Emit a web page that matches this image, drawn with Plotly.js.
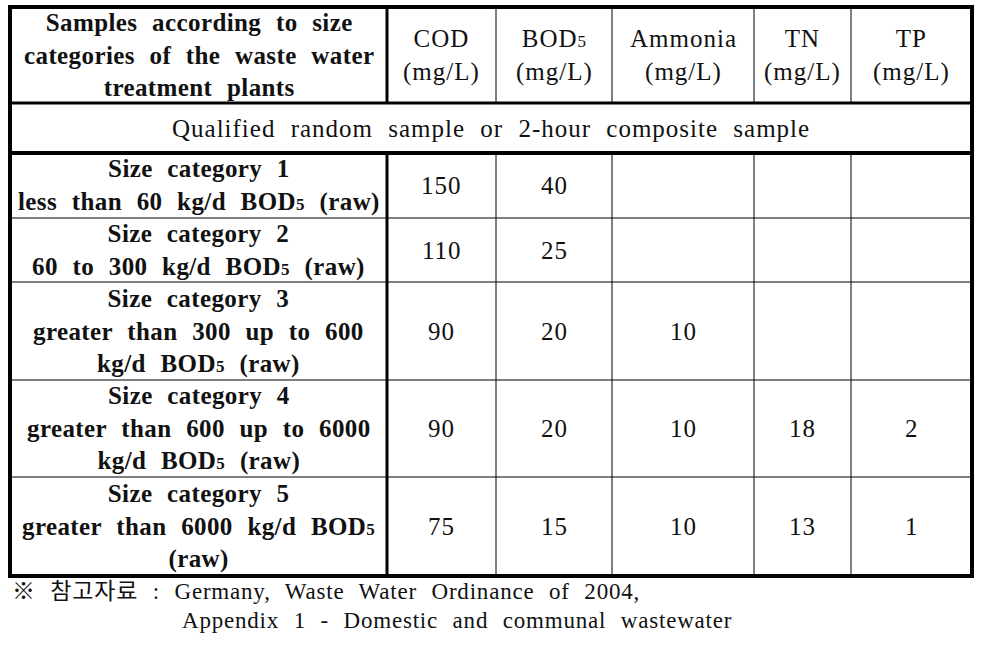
<!DOCTYPE html>
<html>
<head>
<meta charset="utf-8">
<script src="https://cdn.plot.ly/plotly-3.0.1.min.js"></script>
<style>
  body { margin: 0; background: #fff; }
  #table-vis { width: 982px; height: 645px; }
  .annotation-text { word-spacing: 8px; letter-spacing: 1px; }
</style>
</head>
<body>
<div id="table-vis"></div>
<script>
var sub5 = '<span style="font-size:17px">5</span>';

// header cells
var headers = [
  'Samples according to size<br>categories of the waste water<br>treatment plants',
  'COD<br>(mg/L)',
  'BOD' + sub5 + '<br>(mg/L)',
  'Ammonia<br>(mg/L)',
  'TN<br>(mg/L)',
  'TP<br>(mg/L)'
];
var sampleNote = 'Qualified random sample or 2-hour composite sample';

// row labels (first column)
var categories = [
  'Size category 1<br>less than 60 kg/d BOD' + sub5 + ' (raw)',
  'Size category 2<br>60 to 300 kg/d BOD' + sub5 + ' (raw)',
  'Size category 3<br>greater than 300 up to 600<br>kg/d BOD' + sub5 + ' (raw)',
  'Size category 4<br>greater than 600 up to 6000<br>kg/d BOD' + sub5 + ' (raw)',
  'Size category 5<br>greater than 6000 kg/d BOD' + sub5 + '<br>(raw)'
];

// limit values, mg/L (null = no value in table)
var cod     = [150, 110, 90, 90, 75];
var bod5    = [40, 25, 20, 20, 15];
var ammonia = [null, null, 10, 10, 10];
var tn      = [null, null, null, 18, 13];
var tp      = [null, null, null, 2, 1];

var sourceLines = [
  '※ 참고자료 : Germany, Waste Water Ordinance of 2004,',
  'Appendix 1 - Domestic and communal wastewater'
];

// table grid (pixel-like units on hidden axes)
var colEdges = [10, 387, 496, 612, 754, 851, 972];
var rowEdges = [7, 103, 153, 218, 282, 380, 477, 576];

var serif = 'Liberation Serif, Noto Sans CJK KR, serif';
var ink = '#111';

function mid(arr, i) { return (arr[i] + arr[i + 1]) / 2; }

var shapes = [];
function rule(x0, y0, x1, y1, w) {
  shapes.push({type: 'line', xref: 'x', yref: 'y', x0: x0, y0: y0, x1: x1, y1: y1,
    line: {color: '#000', width: w}});
}

var gLeft = colEdges[0], gRight = colEdges[colEdges.length - 1];
var gTop = rowEdges[0], gBottom = rowEdges[rowEdges.length - 1];

// thin verticals (not through the merged row)
for (var c = 2; c < colEdges.length - 1; c++) {
  rule(colEdges[c], rowEdges[0], colEdges[c], rowEdges[1], 1);
  rule(colEdges[c], rowEdges[2], colEdges[c], gBottom, 1);
}
// thin horizontals between body rows
for (var r = 3; r < rowEdges.length - 1; r++) {
  rule(gLeft, rowEdges[r], gRight, rowEdges[r], 1);
}
// thick rules
rule(colEdges[1], rowEdges[0], colEdges[1], rowEdges[1], 3);
rule(colEdges[1], rowEdges[2], colEdges[1], gBottom, 3);
rule(gLeft, rowEdges[1], gRight, rowEdges[1], 3);
rule(gLeft, rowEdges[2], gRight, rowEdges[2], 4);
shapes.push({type: 'rect', xref: 'x', yref: 'y', x0: gLeft, y0: gTop, x1: gRight, y1: gBottom,
  line: {color: '#000', width: 4}});

var annotations = [];
function cellText(text, c, r, bold) {
  var t = bold
    ? text.split('<br>').map(function (s) {
        return '<span style="letter-spacing:0.4px"><b>' + s + '</b></span>';
      }).join('<br>')
    : text;
  annotations.push({
    xref: 'x', yref: 'y', x: mid(colEdges, c), y: mid(rowEdges, r),
    text: t, showarrow: false, xanchor: 'center', yanchor: 'middle', align: 'center',
    font: {family: serif, size: 25, color: ink}
  });
}

headers.forEach(function (h, i) { cellText(h, i, 0, i === 0); });
annotations.push({
  xref: 'x', yref: 'y', x: (gLeft + gRight) / 2, y: mid(rowEdges, 1),
  text: sampleNote, showarrow: false, xanchor: 'center', yanchor: 'middle',
  font: {family: serif, size: 25, color: ink}
});

var columns = [cod, bod5, ammonia, tn, tp];
categories.forEach(function (cat, i) {
  cellText(cat, 0, i + 2, true);
  columns.forEach(function (col, j) {
    if (col[i] !== null) cellText(String(col[i]), j + 1, i + 2, false);
  });
});

annotations.push({
  xref: 'x', yref: 'y', x: 10, y: 591,
  text: '<span style="letter-spacing:0.8px">' + sourceLines[0] + '</span>', showarrow: false,
  xanchor: 'left', yanchor: 'middle', font: {family: serif, size: 23, color: ink}
});
annotations.push({
  xref: 'x', yref: 'y', x: 180, y: 620,
  text: '<span style="letter-spacing:0.8px">' + sourceLines[1] + '</span>', showarrow: false,
  xanchor: 'left', yanchor: 'middle', font: {family: serif, size: 23, color: ink}
});

var layout = {
  width: 982,
  height: 645,
  margin: {l: 0, r: 0, t: 0, b: 0},
  paper_bgcolor: '#fff',
  plot_bgcolor: '#fff',
  showlegend: false,
  xaxis: {range: [0, 982], visible: false, fixedrange: true},
  yaxis: {range: [645, 0], visible: false, fixedrange: true},
  shapes: shapes,
  annotations: annotations
};

Plotly.newPlot('table-vis', [], layout, {displayModeBar: false, staticPlot: true});
</script>
</body>
</html>
